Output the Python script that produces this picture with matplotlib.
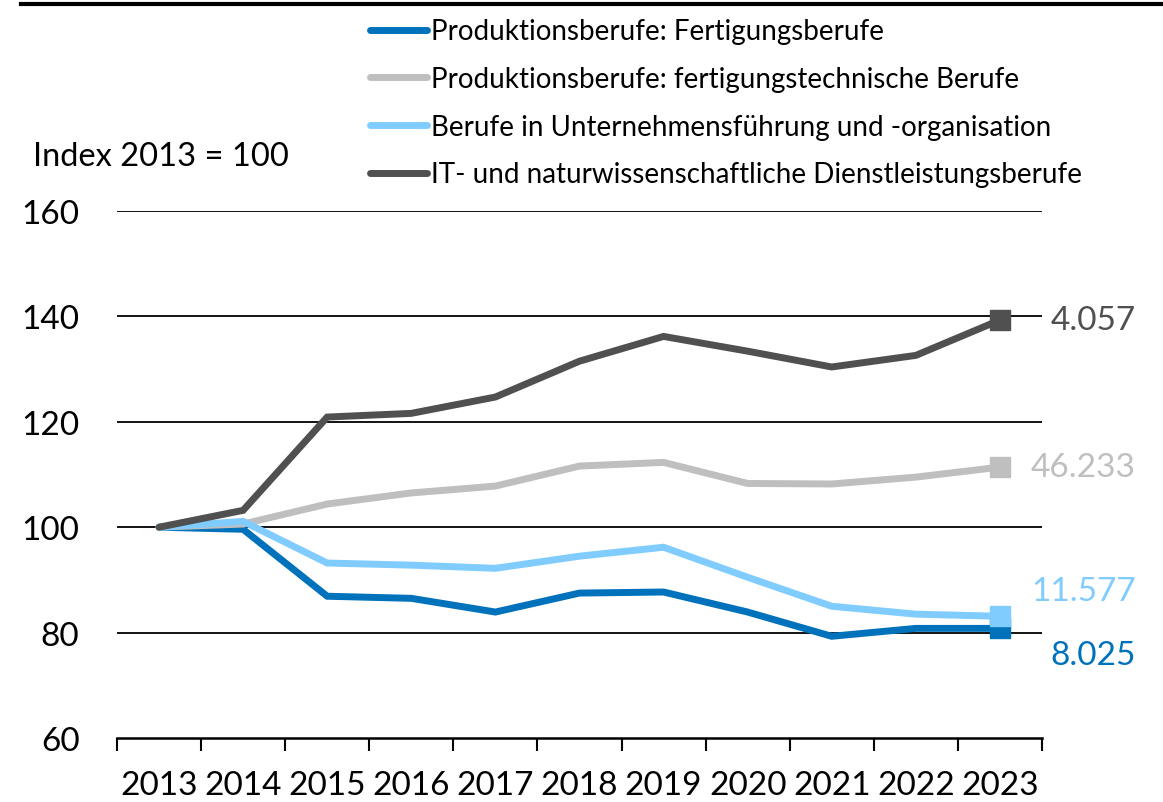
import numpy as np
import matplotlib
matplotlib.use('Agg')
import matplotlib.pyplot as plt
from matplotlib.lines import Line2D

plt.rcParams['font.family'] = ['Lato', 'DejaVu Sans']

years = ['2013', '2014', '2015', '2016', '2017', '2018', '2019', '2020', '2021', '2022', '2023']

# Index 2013 = 100
fertigung = [100, 99.6, 86.9, 86.5, 83.9, 87.5, 87.7, 83.9, 79.3, 80.8, 80.8]
fertigung_tech = [100, 100.6, 104.4, 106.5, 107.8, 111.6, 112.3, 108.3, 108.2, 109.5, 111.4]
unternehmen = [100, 101.1, 93.2, 92.8, 92.2, 94.5, 96.2, 90.5, 85.0, 83.5, 83.1]
it_natur = [100, 103.2, 120.9, 121.6, 124.7, 131.5, 136.2, 133.4, 130.4, 132.6, 139.3]

names = ['Produktionsberufe: Fertigungsberufe',
         'Produktionsberufe: fertigungstechnische Berufe',
         'Berufe in Unternehmensführung und -organisation',
         'IT- und naturwissenschaftliche Dienstleistungsberufe']
end_labels = ['8.025', '46.233', '11.577', '4.057']
colors = ['#0072BC', '#BFBFBF', '#80CCFF', '#505050']
label_dy = [-19, 0, 18, 0]

fig = plt.figure(figsize=(11.63, 8.03), dpi=100)
ax = fig.add_axes([0.1006, 0.0797, 0.7953, 0.6563])

x = np.arange(len(years))
series = [fertigung, fertigung_tech, unternehmen, it_natur]
for vals, name, col in zip(series, names, colors):
    ax.plot(x, vals, color=col, lw=5, label=name, solid_capstyle='round',
            solid_joinstyle='miter', marker='s', markevery=[len(vals) - 1],
            markersize=14, zorder=3)

for vals, lab, col, dy in zip(series, end_labels, colors, label_dy):
    ax.annotate(lab, xy=(1.1016, vals[-1]), xycoords=ax.get_yaxis_transform(),
                xytext=(0, dy), textcoords='offset points',
                ha='right', va='center', color=col, fontsize=24)

ax.set_xlim(-0.5, len(years) - 0.5)
ax.set_ylim(60, 160)
ax.set_yticks([60, 80, 100, 120, 140, 160])
for yv in [80, 100, 120, 140, 160]:
    ax.axhline(yv, color='black', lw=1.3, zorder=1)

ax.set_xticks(np.arange(-0.5, len(years), 1.0))
ax.set_xticklabels([])
ax.set_xticks(x, minor=True)
ax.set_xticklabels(years, minor=True, fontsize=24)
ax.tick_params(axis='x', which='major', length=9, width=1.5, direction='out')
ax.tick_params(axis='x', which='minor', length=0, pad=23)
ax.tick_params(axis='y', length=0, labelsize=24, pad=27)

for s in ['top', 'right', 'left']:
    ax.spines[s].set_visible(False)
ax.spines['bottom'].set_linewidth(1.8)

fig.text(0.028, 0.805, 'Index 2013 = 100', fontsize=23.5, va='center', ha='left')

handles = [Line2D([], [], color=c, lw=5, solid_capstyle='round') for c in colors]
fig.legend(handles, names, loc='upper left', bbox_to_anchor=(0.318, 0.976),
           frameon=False, fontsize=20, handlelength=2.05, handletextpad=0.15,
           labelspacing=0.78, borderpad=0, borderaxespad=0)

fig.add_artist(Line2D([0.018, 1.0], [0.994, 0.994], color='black', lw=3,
                      transform=fig.transFigure))

fig.savefig('out.png', dpi=100)
